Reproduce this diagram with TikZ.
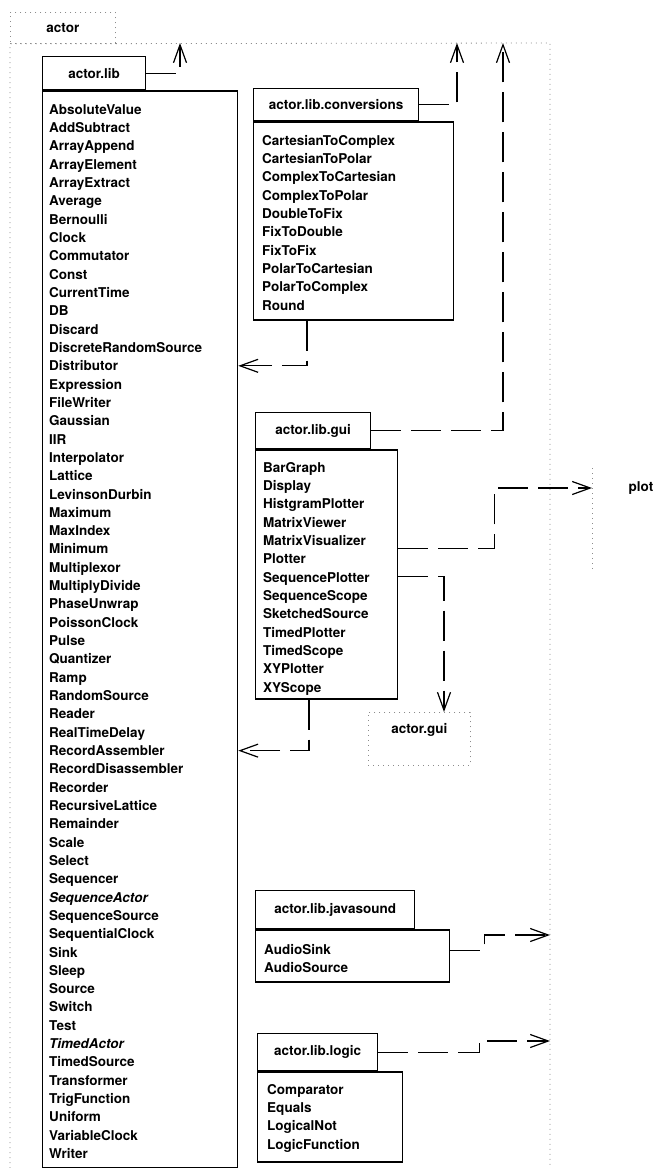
\documentclass[tikz,border=0pt]{standalone}
\usepackage{fontspec}
\setmainfont{TeX Gyre Heros}
\usetikzlibrary{arrows.meta,calc}

\tikzset{
  pkgtab/.style={draw, line width=1.3pt, anchor=north west, inner sep=0pt,
    font=\bfseries\fontsize{13.5}{16}\selectfont},
  pkgbody/.style={draw, line width=1.3pt, anchor=north west, inner sep=0pt},
  clsname/.style={anchor=base west, inner sep=0pt,
    font=\bfseries\fontsize{13.5}{16}\selectfont},
  pkgname/.style={inner sep=0pt, font=\bfseries\fontsize{13.5}{16}\selectfont},
  dep/.style={line width=1.2pt, dash pattern=on 30pt off 10pt,
    -{Straight Barb[length=18pt,width=13pt,line width=1.2pt]}},
  faint/.style={draw=black!45, line width=.8pt, dash pattern=on 1pt off 4pt},
}

\begin{document}
\begin{tikzpicture}[x=1pt, y=-1pt]
  \useasboundingbox (0,0) rectangle (656,1168);
  % the enclosing package
  \node[pkgtab, faint, minimum width=105, minimum height=31] (actortab) at (10,12) {actor};
  \draw[faint] (10,1168) -- (actortab.south west) -- (550,43) -- (550,1168);
  \coordinate (libup) at (180,43);
  \coordinate (convup) at (457,43);
  \coordinate (guiup) at (503,43);
  \coordinate (plotin) at (592,488);
  \coordinate (soundin) at (550,935);
  \coordinate (logicin) at (550,1041);

  % actor.lib
  \node[pkgtab, minimum width=103, minimum height=33] (libtab) at (42,56) {actor.lib};
  \node[pkgbody, minimum width=195, minimum height=1077] (libbody) at (libtab.south west) {};
  \foreach \c [count=\i from 0] in {AbsoluteValue, AddSubtract, ArrayAppend,
      ArrayElement, ArrayExtract, Average, Bernoulli, Clock, Commutator, Const,
      CurrentTime, DB, Discard, DiscreteRandomSource, Distributor, Expression,
      FileWriter, Gaussian, IIR, Interpolator, Lattice, LevinsonDurbin, Maximum,
      MaxIndex, Minimum, Multiplexor, MultiplyDivide, PhaseUnwrap, PoissonClock,
      Pulse, Quantizer, Ramp, RandomSource, Reader, RealTimeDelay,
      RecordAssembler, RecordDisassembler, Recorder, RecursiveLattice,
      Remainder, Scale, Select, Sequencer, \textit{SequenceActor},
      SequenceSource, SequentialClock, Sink, Sleep, Source, Switch, Test,
      \textit{TimedActor}, TimedSource, Transformer, TrigFunction, Uniform,
      VariableClock, Writer}
    \node[clsname] (lib\i) at ($(libbody.north west)+(7,{24+18.32*\i})$) {\c};

  % actor.lib.conversions
  \node[pkgtab, minimum width=165, minimum height=32] (convtab) at (253,88) {actor.lib.conversions};
  \node[pkgbody, minimum width=200, minimum height=198] (convbody) at (convtab.south west) {};
  \foreach \c [count=\i from 0] in {CartesianToComplex, CartesianToPolar,
      ComplexToCartesian, ComplexToPolar, DoubleToFix, FixToDouble, FixToFix,
      PolarToCartesian, PolarToComplex, Round}
    \node[clsname] (conv\i) at ($(convbody.north west)+(9,{24+18.32*\i})$) {\c};

  % actor.lib.gui
  \node[pkgtab, minimum width=115, minimum height=36] (guitab) at (255,412) {actor.lib.gui};
  \node[pkgbody, minimum width=142, minimum height=249] (guibody) at (guitab.south west) {};
  \foreach \c [count=\i from 0] in {BarGraph, Display, HistgramPlotter,
      MatrixViewer, MatrixVisualizer, Plotter, SequencePlotter, SequenceScope,
      SketchedSource, TimedPlotter, TimedScope, XYPlotter, XYScope}
    \node[clsname] (gui\i) at ($(guibody.north west)+(8,{23+18.32*\i})$) {\c};

  % actor.lib.javasound
  \node[pkgtab, minimum width=159, minimum height=38] (soundtab) at (255,890) {actor.lib.javasound};
  \node[pkgbody, minimum width=194, minimum height=52] (soundbody) at (soundtab.south west) {};
  \foreach \c [count=\i from 0] in {AudioSink, AudioSource}
    \node[clsname] (sound\i) at ($(soundbody.north west)+(9,{25+18.32*\i})$) {\c};

  % actor.lib.logic
  \node[pkgtab, minimum width=120, minimum height=37] (logictab) at (257,1033) {actor.lib.logic};
  \node[pkgbody, minimum width=145, minimum height=90] (logicbody) at (logictab.south west) {};
  \foreach \c [count=\i from 0] in {Comparator, Equals, LogicalNot, LogicFunction}
    \node[clsname] (logic\i) at ($(logicbody.north west)+(10,{23+18.32*\i})$) {\c};

  % packages outside actor.lib
  \node[pkgbody, faint, minimum width=102, minimum height=53] (actorgui) at (368,712) {};
  \node[pkgname] (actorguiname) at ([yshift=-18pt]actorgui.north) {actor.gui};
  \draw[faint] (592,468) -- (592,570);
  \node[pkgname] (plotname) at (641,488) {plot};

  % dependencies
  \draw[dep] (libtab.east) -| (libup);
  \draw[dep] (convtab.east) -| (convup);
  \draw[dep] (guitab.east) -| (guiup);
  \draw[dep] ([xshift=54pt]convbody.south west) |- (libbody.east |- lib14);
  \draw[dep] ([xshift=54pt]guibody.south west) |- (libbody.east |- lib35);
  \draw[dep] ([yshift=-99pt]guibody.north east) -- ++(96,0) |- (plotin);
  \draw[dep] ([yshift=-127pt]guibody.north east) -| ([xshift=76pt]actorgui.north west);
  \draw[dep] ([yshift=-21pt]soundbody.north east) -- ++(34,0) |- (soundin);
  \draw[dep] (logictab.east) -- ++(101,0) |- (logicin);
\end{tikzpicture}
\end{document}
